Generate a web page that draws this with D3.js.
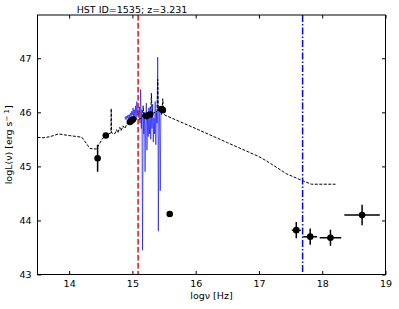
<!DOCTYPE html>
<html lang="en">
  <head>
    <meta charset="UTF-8" />
    <title>HST ID=1535 SED</title>
    <script src="https://d3js.org/d3.v7.min.js"></script>
    <style>
      body { margin: 0; background: #fff; }
      svg { font-family: "DejaVu Sans", sans-serif; }
    </style>
  </head>
  <body>
    <svg id="chart" width="399" height="309"></svg>

    <script>
      // SED model (log nu, log L)
      const modelNu = [13.5, 13.6, 13.7, 13.83, 14.0, 14.2, 14.33, 14.43, 14.52, 14.58, 14.62, 14.66, 14.665, 14.67,
        14.72, 14.75, 14.77, 14.8, 14.82, 14.85, 14.88, 14.92, 14.96, 15.0, 15.05, 15.1, 15.16, 15.17, 15.18,
        15.25, 15.29, 15.3, 15.31, 15.36, 15.39, 15.4, 15.41, 15.45, 15.47, 15.48, 15.49, 15.51,
        16.0, 16.5, 17.0, 17.12, 17.44, 17.7, 17.83, 18.21];
      const modelL = [45.535, 45.53, 45.55, 45.6, 45.57, 45.54, 45.33, 45.32, 45.5, 45.58, 45.6, 45.62, 46.07, 45.62,
        45.6, 45.68, 45.62, 45.72, 45.66, 45.75, 45.7, 45.8, 45.84, 45.86, 45.88, 45.87, 45.9, 46.12, 45.9,
        45.95, 45.97, 46.35, 45.98, 46.0, 46.02, 46.61, 46.03, 46.05, 46.06, 46.25, 46.02, 45.95,
        45.7, 45.44, 45.18, 45.1, 44.86, 44.73, 44.67, 44.67];

      // optical spectrum
      const specNu = [14.88, 14.89, 14.9, 14.91, 14.92, 14.93, 14.94, 14.95, 14.96, 14.97, 14.98, 14.99, 15.0,
        15.01, 15.02, 15.03, 15.04, 15.05, 15.06, 15.07, 15.08, 15.09, 15.1, 15.11, 15.12, 15.13, 15.14,
        15.15, 15.16, 15.17, 15.18, 15.19, 15.2, 15.21, 15.22, 15.23, 15.24, 15.25, 15.26, 15.27, 15.28,
        15.29, 15.3, 15.31, 15.32, 15.33, 15.34, 15.35, 15.36, 15.37, 15.38, 15.39, 15.4, 15.41, 15.42,
        15.43, 15.44, 15.45, 15.46, 15.47];
      const specL = [45.88, 45.92, 45.86, 45.93, 45.89, 45.95, 45.87, 45.96, 45.9, 45.99, 45.93, 46.02, 45.95,
        46.08, 45.92, 46.05, 45.85, 46.12, 45.88, 46.2, 45.95, 46.05, 45.9, 46.1, 45.8, 46.42, 45.7,
        46.05, 43.45, 45.9, 45.6, 46.0, 44.9, 45.8, 46.17, 45.3, 45.95, 45.55, 46.08, 45.6, 46.1,
        45.5, 46.0, 45.7, 46.15, 45.45, 45.9, 45.6, 46.2, 45.4, 46.0, 45.8, 47.02, 43.8, 46.1,
        45.9, 44.55, 46.05, 45.95, 46.1];

      // photometry with errors
      const photNu = [14.45, 14.58, 14.96, 14.99, 15.01, 15.22, 15.25, 15.28, 15.46, 15.48, 15.59,
        17.59, 17.81, 18.13, 18.63];
      const photL = [45.15, 45.57, 45.82, 45.85, 45.87, 45.93, 45.95, 45.96, 46.06, 46.04, 44.12,
        43.82, 43.70, 43.68, 44.10];
      const photXerr = [0, 0, 0, 0, 0, 0, 0, 0, 0, 0, 0, 0.07, 0.11, 0.17, 0.28];
      const photYerr = [0.25, 0.03, 0.03, 0.03, 0.03, 0.03, 0.03, 0.03, 0.03, 0.03, 0, 0.15, 0.15, 0.15, 0.19];

      const redLine = 15.09;
      const blueLine = 17.69;
      const xTicks = [14, 15, 16, 17, 18, 19];
      const yTicks = [43, 44, 45, 46, 47];

      const svg = d3.select("#chart");
      const m = { left: 37.5, right: 385.5, top: 15, bottom: 274.5 };

      const x = d3.scaleLinear().domain([13.5, 19]).range([m.left, m.right]);
      const y = d3.scaleLinear().domain([43, 47.8]).range([m.bottom, m.top]);

      const clip = svg.append("clipPath").attr("id", "clip")
        .append("rect").attr("x", m.left).attr("y", m.top)
        .attr("width", m.right - m.left).attr("height", m.bottom - m.top);

      const plot = svg.append("g").attr("clip-path", "url(#clip)");

      const line = d3.line().x((d) => x(d[0])).y((d) => y(d[1]));

      // spectrum
      plot.append("path")
        .attr("d", line(d3.zip(specNu, specL)))
        .attr("fill", "none")
        .attr("stroke", "blue")
        .attr("stroke-opacity", 0.6)
        .attr("stroke-width", 1);

      // model
      plot.append("path")
        .attr("d", line(d3.zip(modelNu, modelL)))
        .attr("fill", "none")
        .attr("stroke", "black")
        .attr("stroke-width", 1)
        .attr("stroke-dasharray", "3,1.5");

      // error bars + points
      const pts = photNu.map((v, i) => ({ nu: v, L: photL[i], xe: photXerr[i], ye: photYerr[i] }));
      const eb = plot.append("g").attr("stroke", "black").attr("stroke-width", 1.5);
      eb.selectAll(".ex").data(pts.filter((d) => d.xe > 0)).join("line")
        .attr("x1", (d) => x(d.nu - d.xe)).attr("x2", (d) => x(d.nu + d.xe))
        .attr("y1", (d) => y(d.L)).attr("y2", (d) => y(d.L));
      eb.selectAll(".ey").data(pts.filter((d) => d.ye > 0)).join("line")
        .attr("x1", (d) => x(d.nu)).attr("x2", (d) => x(d.nu))
        .attr("y1", (d) => y(d.L - d.ye)).attr("y2", (d) => y(d.L + d.ye));
      plot.selectAll(".pt").data(pts).join("circle")
        .attr("cx", (d) => x(d.nu)).attr("cy", (d) => y(d.L))
        .attr("r", 3.3).attr("fill", "black");

      // vertical lines
      plot.append("line")
        .attr("x1", x(redLine)).attr("x2", x(redLine))
        .attr("y1", m.top).attr("y2", m.bottom)
        .attr("stroke", "red").attr("stroke-width", 1.5)
        .attr("stroke-dasharray", "5.5,2.5");
      plot.append("line")
        .attr("x1", x(blueLine)).attr("x2", x(blueLine))
        .attr("y1", m.top).attr("y2", m.bottom)
        .attr("stroke", "blue").attr("stroke-width", 1.5)
        .attr("stroke-dasharray", "7,2,1.5,2");

      // axes, ticks inward on all sides
      const tl = 3.5;
      const fs = "9.5px";
      svg.append("g").attr("transform", `translate(0,${m.bottom})`)
        .call(d3.axisBottom(x).tickValues(xTicks).tickSize(-tl).tickPadding(6).tickFormat(d3.format("d")))
        .call((g) => g.select(".domain").remove())
        .call((g) => g.selectAll("text").attr("font-size", fs).attr("fill", "#000").attr("font-family", "DejaVu Sans"));
      svg.append("g").attr("transform", `translate(0,${m.top})`)
        .call(d3.axisTop(x).tickValues(xTicks).tickSize(-tl).tickFormat(""))
        .call((g) => g.select(".domain").remove());
      svg.append("g").attr("transform", `translate(${m.left},0)`)
        .call(d3.axisLeft(y).tickValues(yTicks).tickSize(-tl).tickPadding(6).tickFormat(d3.format("d")))
        .call((g) => g.select(".domain").remove())
        .call((g) => g.selectAll("text").attr("font-size", fs).attr("fill", "#000").attr("font-family", "DejaVu Sans"));
      svg.append("g").attr("transform", `translate(${m.right},0)`)
        .call(d3.axisRight(y).tickValues(yTicks).tickSize(-tl).tickFormat(""))
        .call((g) => g.select(".domain").remove());

      svg.append("rect")
        .attr("x", m.left).attr("y", m.top)
        .attr("width", m.right - m.left).attr("height", m.bottom - m.top)
        .attr("fill", "none").attr("stroke", "black").attr("stroke-width", 1);

      // title and labels
      svg.append("text")
        .attr("x", 132).attr("y", 12.5)
        .attr("text-anchor", "middle").attr("font-size", "9.5px")
        .text("HST ID=1535; z=3.231");

      svg.append("text")
        .attr("x", (m.left + m.right) / 2).attr("y", 299)
        .attr("text-anchor", "middle").attr("font-size", "9.5px")
        .text("logν [Hz]");

      const yl = svg.append("text")
        .attr("transform", `translate(12,${(m.top + m.bottom) / 2}) rotate(-90)`)
        .attr("text-anchor", "middle").attr("font-size", "9.5px");
      yl.append("tspan").text("logL(ν) [erg s");
      yl.append("tspan").attr("dy", -3.5).attr("font-size", "7px").text("− 1");
      yl.append("tspan").attr("dy", 3.5).text("]");
    </script>
  </body>
</html>
